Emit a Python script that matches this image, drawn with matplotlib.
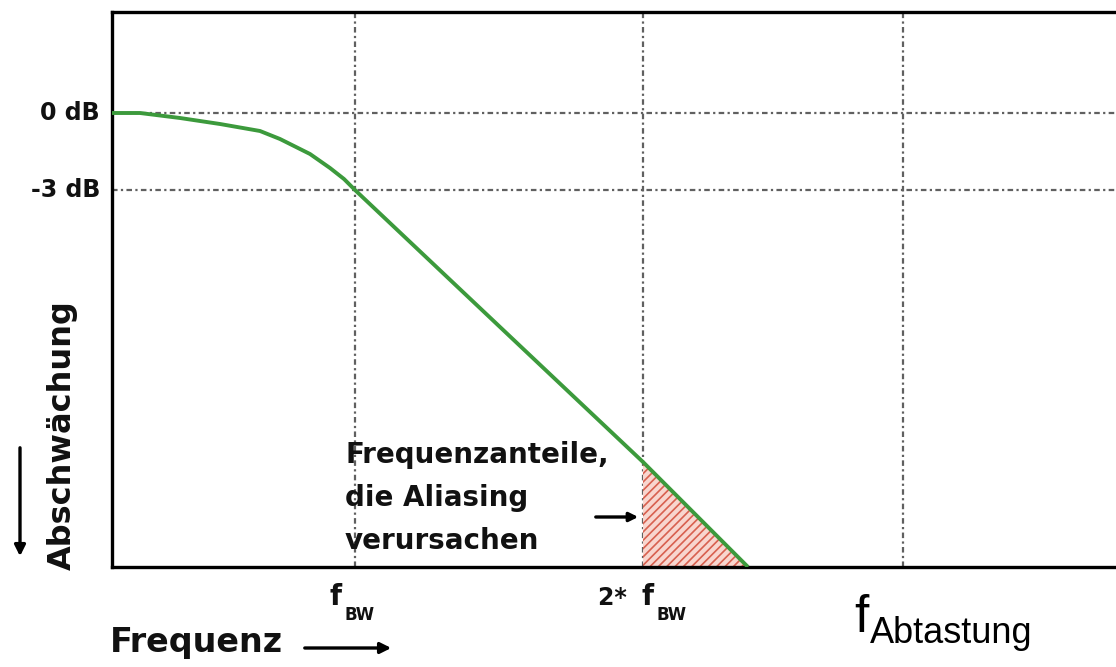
import matplotlib
matplotlib.use("Agg")
import matplotlib.pyplot as plt
import numpy as np

# ---- data (chart units: frequency axis 0..1004, attenuation axis 0..555) ----
freq = [0, 28, 68, 108, 148, 168, 198, 218, 232, 243, 388, 531, 636]
level = [454, 454, 449, 443, 436, 428, 413, 399, 388, 377, 240, 105, 0]
alias_freq = [531, 636]
grid_x = [243, 531, 791]          # f_BW, 2*f_BW, f_Abtastung
grid_y = [454, 377]               # 0 dB, -3 dB
ytick_labels = ["0 dB", "-3 dB"]
annot_lines = ["Frequenzanteile,", "die Aliasing", "verursachen"]

W, H = 1116, 667
fig = plt.figure(figsize=(W / 100, H / 100), dpi=100)
ax = fig.add_axes([112 / W, 100 / H, 1004 / W, 555 / H])
ax.set_xlim(0, 1004)
ax.set_ylim(0, 555)

for s in ["left", "top", "bottom"]:
    ax.spines[s].set_linewidth(2.4)
    ax.spines[s].set_color("black")
ax.spines["right"].set_visible(False)
ax.set_xticks([])
ax.set_yticks([])

gls = (0, (2.5, 1.5, 1, 1.5))
for gx in grid_x:
    ax.axvline(gx, color="#606060", lw=1.6, ls=gls, zorder=1)
for gy in grid_y:
    ax.axhline(gy, color="#606060", lw=1.6, ls=gls, zorder=1)

# aliasing region
xf = np.array(freq, float)
yf = np.array(level, float)
mask = (xf >= alias_freq[0]) & (xf <= alias_freq[1])
plt.rcParams["hatch.linewidth"] = 1.2
ax.fill_between(xf[mask], 0, yf[mask], facecolor="#f8d6cf", edgecolor="#d8604f",
                hatch="////", linewidth=0, zorder=2)

ax.plot(freq, level, color="#3c9a3c", lw=2.8, zorder=3, solid_capstyle="butt")

bold = dict(family="DejaVu Sans", weight="bold", color="#111111")

# y labels
for gy, lab in zip(grid_y, ytick_labels):
    ax.text(-12, gy, lab, ha="right", va="center", fontsize=17, clip_on=False, **bold)

ax.text(-50, 132, "Abschwächung", rotation=90, ha="center", va="center",
        fontsize=23, clip_on=False, **bold)
ax.annotate("", xy=(-92, 8), xytext=(-92, 122), xycoords="data",
            arrowprops=dict(arrowstyle="-|>", color="black", lw=2.4, mutation_scale=16),
            annotation_clip=False)

ax.text(-2, -85, "Frequenz", ha="left", va="baseline", fontsize=24, clip_on=False, **bold)
ax.annotate("", xy=(282, -81), xytext=(190, -81), xycoords="data",
            arrowprops=dict(arrowstyle="-|>", color="black", lw=2.4, mutation_scale=16),
            annotation_clip=False)

# x tick labels
ax.text(218, -38, "f", ha="left", va="baseline", fontsize=20, clip_on=False, **bold)
ax.text(233, -53, "BW", ha="left", va="baseline", fontsize=12, clip_on=False, **bold)
ax.text(486, -38, "2* ", ha="left", va="baseline", fontsize=17, clip_on=False, **bold)
ax.text(529, -38, "f", ha="left", va="baseline", fontsize=20, clip_on=False, **bold)
ax.text(544, -53, "BW", ha="left", va="baseline", fontsize=12, clip_on=False, **bold)

reg = dict(family="Liberation Sans", color="black")
ax.text(742, -65, "f", ha="left", va="baseline", fontsize=37, clip_on=False, **reg)
ax.text(758, -76, "Abtastung", ha="left", va="baseline", fontsize=26, clip_on=False, **reg)

# annotation
for i, line in enumerate(annot_lines):
    ax.text(233, 104 - 43 * i, line, ha="left", va="baseline", fontsize=20, zorder=4, **bold)
ax.annotate("", xy=(529, 50), xytext=(481, 50), xycoords="data",
            arrowprops=dict(arrowstyle="-|>", color="black", lw=2.4, mutation_scale=13),
            annotation_clip=False)

fig.savefig("out.png", dpi=100)
